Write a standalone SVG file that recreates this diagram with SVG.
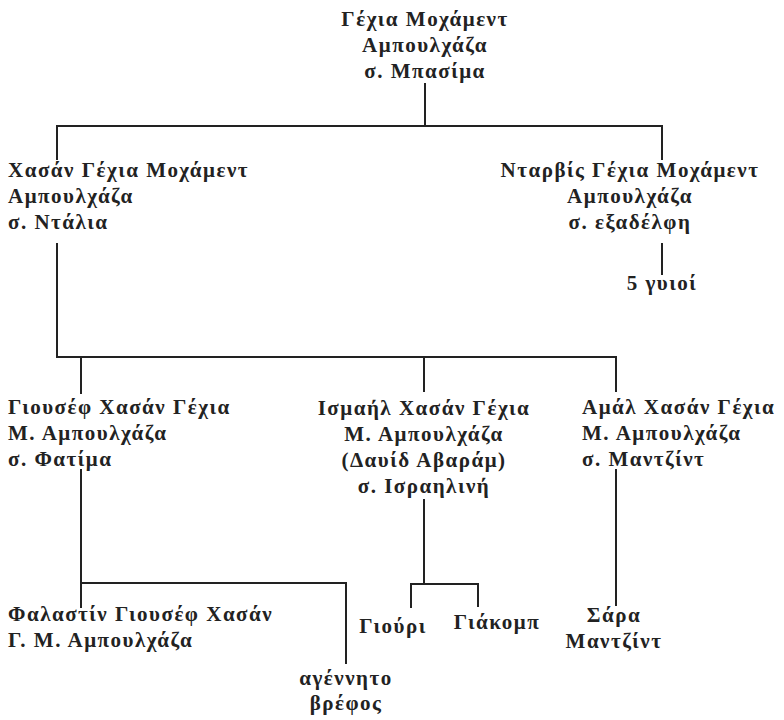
<svg xmlns="http://www.w3.org/2000/svg" width="784" height="720" viewBox="0 0 784 720">
<style>
text{font-family:"Liberation Serif","DejaVu Serif",serif;font-weight:bold;font-size:21px;fill:#222;letter-spacing:1.5px}
.m{text-anchor:middle}
.c path{fill:none;stroke:#222;stroke-width:2}
</style>
<rect width="784" height="720" fill="#fff"/>
<g class="c" id="connectors">
<path d="M425,83V126M57,160V126H662V160"/>
<path d="M57,243V357H616V392M81,357V394M424,357V392"/>
<path d="M662,243V275"/>
<path d="M81,469V583H346V664M81,583V608"/>
<path d="M424,499V584M411,608V584H478V607"/>
<path d="M616,469V606"/>
</g>
<g id="n-yehia"><text class="m" x="425" y="26">Γέχια Μοχάμεντ</text><text class="m" x="425" y="52">Αμπουλχάζα</text><text class="m" x="425" y="78">σ. Μπασίμα</text></g>
<g id="n-hasan"><text x="8" y="177">Χασάν Γέχια Μοχάμεντ</text><text x="8" y="203">Αμπουλχάζα</text><text x="8" y="229">σ. Ντάλια</text></g>
<g id="n-ntarvis"><text class="m" x="630" y="177">Νταρβίς Γέχια Μοχάμεντ</text><text class="m" x="630" y="203">Αμπουλχάζα</text><text class="m" x="630" y="229">σ. εξαδέλφη</text></g>
<g id="n-sons"><text class="m" x="662" y="290">5 γυιοί</text></g>
<g id="n-giousef"><text x="8" y="414">Γιουσέφ Χασάν Γέχια</text><text x="8" y="440">Μ. Αμπουλχάζα</text><text x="8" y="466">σ. Φατίμα</text></g>
<g id="n-ismail"><text class="m" x="424" y="415">Ισμαήλ Χασάν Γέχια</text><text class="m" x="424" y="441">Μ. Αμπουλχάζα</text><text class="m" x="424" y="467">(Δαυίδ Αβαράμ)</text><text class="m" x="424" y="493">σ. Ισραηλινή</text></g>
<g id="n-amal"><text x="582" y="414">Αμάλ Χασάν Γέχια</text><text x="582" y="440">Μ. Αμπουλχάζα</text><text x="582" y="466">σ. Μαντζίντ</text></g>
<g id="n-falastin"><text x="8" y="621">Φαλαστίν Γιουσέφ Χασάν</text><text x="8" y="647">Γ. Μ. Αμπουλχάζα</text></g>
<g id="n-unborn"><text class="m" x="346" y="685">αγέννητο</text><text class="m" x="346" y="710">βρέφος</text></g>
<g id="n-giouri"><text class="m" x="393" y="633">Γιούρι</text></g>
<g id="n-giakomp"><text class="m" x="497" y="629">Γιάκομπ</text></g>
<g id="n-sara"><text class="m" x="614" y="622">Σάρα</text><text class="m" x="614" y="648">Μαντζίντ</text></g>
</svg>
